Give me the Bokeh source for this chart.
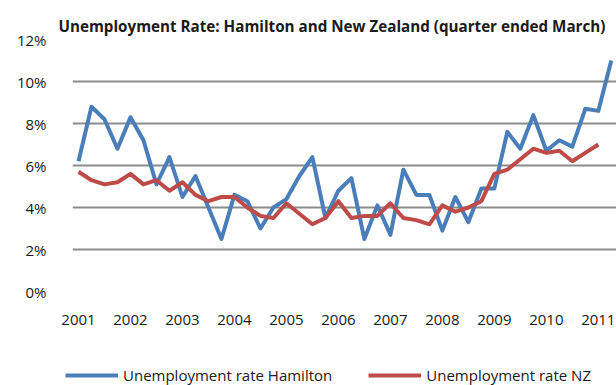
from bokeh.plotting import figure
from bokeh.layouts import column
from bokeh.models import Range1d, FixedTicker, Legend, LegendItem
from bokeh.embed import file_html
from bokeh.resources import INLINE

years = ["2001", "2002", "2003", "2004", "2005", "2006", "2007", "2008", "2009", "2010", "2011"]
hamilton = [6.2, 8.8, 8.2, 6.8, 8.3, 7.2, 5.1, 6.4, 4.5, 5.5, 4.0, 2.5, 4.6, 4.3, 3.0, 4.0,
            4.4, 5.5, 6.4, 3.5, 4.8, 5.4, 2.5, 4.1, 2.7, 5.8, 4.6, 4.6, 2.9, 4.5, 3.3, 4.9,
            4.9, 7.6, 6.8, 8.4, 6.7, 7.2, 6.9, 8.7, 8.6, 11.0]
nz = [5.7, 5.3, 5.1, 5.2, 5.6, 5.1, 5.3, 4.8, 5.2, 4.6, 4.3, 4.5, 4.5, 4.0, 3.6, 3.5,
      4.2, 3.7, 3.2, 3.5, 4.3, 3.5, 3.6, 3.6, 4.2, 3.5, 3.4, 3.2, 4.1, 3.8, 4.0, 4.3,
      5.6, 5.8, 6.3, 6.8, 6.6, 6.7, 6.2, 6.6, 7.0]
y_ticks = [0, 2, 4, 6, 8, 10, 12]
series_names = ["Unemployment rate Hamilton", "Unemployment rate NZ"]
series_values = [hamilton, nz]
series_colors = ["#4A7EBB", "#BE4B48"]

FONT = "Open Sans"
TXT = "#1a1a1a"

p = figure(width=616, height=365, output_backend="svg", toolbar_location=None,
           x_range=Range1d(-0.46, 41.4), y_range=Range1d(0, 12),
           min_border_left=72, min_border_right=0, min_border_top=39, min_border_bottom=74)
p.frame_align = False
p.outline_line_color = None
p.background_fill_color = "white"
p.border_fill_color = "white"

p.title.text = "Unemployment Rate: Hamilton and New Zealand (quarter ended March)"
p.title.text_font = FONT
p.title.text_font_size = "15.2px"
p.title.text_font_style = "bold"
p.title.text_color = TXT
p.title.align = "left"
p.title.offset = -14
p.title.standoff = 7

for vals, col in zip(series_values, series_colors):
    p.line(list(range(len(vals))), vals, line_color=col, line_width=4, line_join="round")

p.xgrid.visible = False
p.ygrid.grid_line_color = "#8c8c8c"
p.ygrid.grid_line_width = 2
p.ygrid.ticker = FixedTicker(ticks=y_ticks)

p.yaxis.ticker = FixedTicker(ticks=y_ticks)
p.yaxis.major_label_overrides = {t: f"{t}%" for t in y_ticks}
p.xaxis.ticker = FixedTicker(ticks=[4 * i for i in range(len(years))])
p.xaxis.major_label_overrides = {4 * i: y for i, y in enumerate(years)}
for ax in (p.xaxis[0], p.yaxis[0]):
    ax.axis_line_color = None
    ax.major_tick_line_color = None
    ax.minor_tick_line_color = None
    ax.major_label_text_font = FONT
    ax.major_label_text_font_size = "15px"
    ax.major_label_text_color = TXT
p.yaxis.major_label_standoff = 20
p.xaxis.major_label_standoff = 17

# legend strip underneath the chart (hidden copies of the series feed the legend)
lg = figure(width=616, height=20, output_backend="svg", toolbar_location=None,
            x_range=Range1d(0, 1), y_range=Range1d(0, 1),
            min_border_left=0, min_border_right=0, min_border_top=0, min_border_bottom=0,
            x_axis_location=None, y_axis_location=None)
lg.frame_align = False
lg.outline_line_color = None
lg.xgrid.visible = False
lg.ygrid.visible = False
items = []
for name, vals, col in zip(series_names, series_values, series_colors):
    r = lg.line(list(range(len(vals))), vals, line_color=col, line_width=4, visible=False)
    items.append(LegendItem(label=name, renderers=[r]))
legend = Legend(items=items, orientation="horizontal", location=(65, 0),
                glyph_width=53, glyph_height=14, label_height=14, label_standoff=5,
                spacing=36, padding=0, margin=0,
                label_text_font=FONT, label_text_font_size="15px", label_text_color=TXT,
                background_fill_alpha=0, border_line_color=None)
lg.add_layout(legend, "center")

page = column(p, lg, spacing=0)
open("out.html", "w").write(file_html(page, INLINE))
